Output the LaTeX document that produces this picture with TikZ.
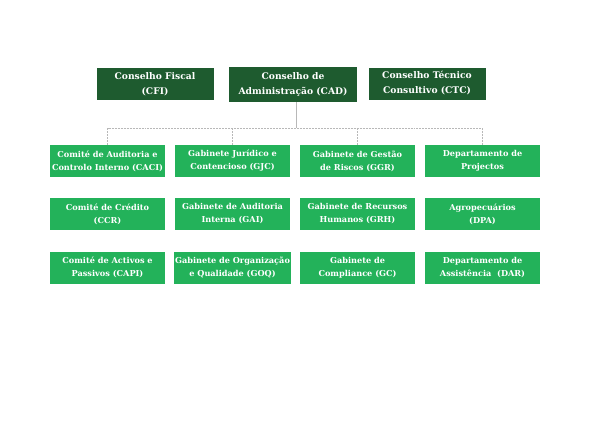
\documentclass[tikz,border=0pt]{standalone}
\usepackage{fontspec}
\setmainfont{DejaVu Serif}
\usepackage{tikz}
\usetikzlibrary{positioning,calc}
\definecolor{board}{HTML}{1E5B2F}
\definecolor{unit}{HTML}{23B25A}
\definecolor{wire}{HTML}{B8B8B8}

\begin{document}
\begin{tikzpicture}[
  x=1bp, y=1bp,
  every node/.style={font=\bfseries\fontsize{8.2}{13}\selectfont, text=white, align=center},
  top/.style={fill=board, minimum width=117bp, minimum height=32bp, inner sep=1pt,
    font=\bfseries\fontsize{9.2}{15}\selectfont},
  unitbox/.style={fill=unit, minimum width=115bp, minimum height=32bp, inner sep=1pt},
  trunk/.style={wire, line width=0.8pt},
  branch/.style={wire, line width=0.6pt, dash pattern=on 2pt off 1pt},
]
\useasboundingbox (0,0) rectangle (594,420);
% conselhos
\node[top]                         (cfi) at (155, 336)   {Conselho Fiscal\\(CFI)};
\node[top, minimum width=128bp, minimum height=35bp] (cad) at (293, 335.5) {Conselho de\\Administração (CAD)};
\node[top]                         (ctc) at (427, 336.5) {Conselho Técnico\\Consultivo (CTC)};
% primeira linha
\node[unitbox] (caci) at (107.5, 259) {Comité de Auditoria e\\Controlo Interno (CACI)};
\node[unitbox] (gjc)  at (232.5, 259) {Gabinete Jurídico e\\Contencioso (GJC)};
\node[unitbox] (ggr)  at (357.5, 259) {Gabinete de Gestão\\de Riscos (GGR)};
\node[unitbox] (dp)   at (482.5, 259) {Departamento de\\Projectos};
% segunda linha
\node[unitbox] (ccr)  at (107.5, 206) {Comité de Crédito\\(CCR)};
\node[unitbox] (gai)  at (232.5, 206) {Gabinete de Auditoria\\Interna (GAI)};
\node[unitbox] (grh)  at (357.5, 206) {Gabinete de Recursos\\Humanos (GRH)};
\node[unitbox] (dpa)  at (482.5, 206) {Agropecuários\\(DPA)};
% terceira linha
\node[unitbox] (capi) at (107.5, 152.5) {Comité de Activos e\\Passivos (CAPI)};
\node[unitbox] (goq)  at (232.5, 152.5) {Gabinete de Organização\\e Qualidade (GOQ)};
\node[unitbox] (gc)   at (357.5, 152.5) {Gabinete de\\Compliance (GC)};
\node[unitbox] (dar)  at (482.5, 152.5) {Departamento de\\Assistência~ (DAR)};
% ligações
\coordinate (hub) at (296, 292);
\draw[trunk] (cad.south -| hub) -- (hub);
\draw[branch] (caci.north) |- (hub) -| (dp.north);
\draw[branch] (gjc.north) -- (gjc.north |- hub);
\draw[branch] (ggr.north) -- (ggr.north |- hub);
\end{tikzpicture}
\end{document}
